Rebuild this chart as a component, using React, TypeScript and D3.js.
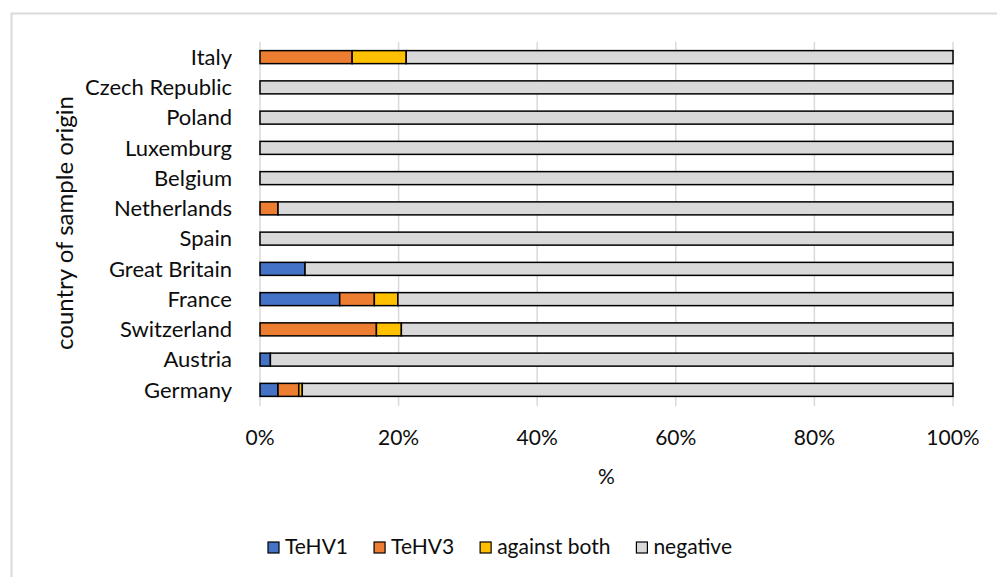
import React, { useRef, useEffect } from 'react';
import * as d3 from 'd3';

const countries = [
  'Italy',
  'Czech Republic',
  'Poland',
  'Luxemburg',
  'Belgium',
  'Netherlands',
  'Spain',
  'Great Britain',
  'France',
  'Switzerland',
  'Austria',
  'Germany',
];
const seriesNames = ['TeHV1', 'TeHV3', 'against both', 'negative'];
const tehv1 = [0, 0, 0, 0, 0, 0, 0, 6.5, 11.5, 0, 1.5, 2.6];
const tehv3 = [13.3, 0, 0, 0, 0, 2.6, 0, 0, 5.0, 16.8, 0, 3.0];
const againstBoth = [7.8, 0, 0, 0, 0, 0, 0, 0, 3.4, 3.6, 0, 0.5];
const negative = countries.map((_, i) => 100 - tehv1[i] - tehv3[i] - againstBoth[i]);
const xTicks = [0, 20, 40, 60, 80, 100];
const colors = ['#4472C4', '#ED7D31', '#FFC000', '#D9D9D9'];

const W = 997;
const H = 577;
const FONT = 'Lato, "Open Sans", sans-serif';
const INK = '#0d0d0d';

const App: React.FC = () => {
  const ref = useRef<SVGSVGElement | null>(null);

  useEffect(() => {
    if (!ref.current) return;
    const svg = d3.select(ref.current);
    svg.selectAll('*').remove();

    const margin = { top: 42, right: 44, bottom: 172, left: 260 };
    const x = d3.scaleLinear().domain([0, 100]).range([margin.left, W - margin.right]);
    const y = d3
      .scaleBand()
      .domain(countries)
      .range([margin.top, H - margin.bottom])
      .paddingInner(0.57)
      .paddingOuter(0.285);

    // chart frame
    svg
      .append('rect')
      .attr('x', 11.5)
      .attr('y', 13.5)
      .attr('width', 1000)
      .attr('height', 600)
      .attr('fill', '#fff')
      .attr('stroke', '#d9d9d9')
      .attr('stroke-width', 2);

    // gridlines
    svg
      .append('g')
      .selectAll('line')
      .data(xTicks)
      .join('line')
      .attr('x1', (d) => x(d))
      .attr('x2', (d) => x(d))
      .attr('y1', margin.top)
      .attr('y2', H - margin.bottom + 1)
      .attr('stroke', '#d9d9d9')
      .attr('stroke-width', 1.5);

    const rows = countries.map((c, i) => {
      const vals = [tehv1[i], tehv3[i], againstBoth[i], negative[i]];
      return { c, vals };
    });
    const stack = d3
      .stack<{ c: string; vals: number[] }, number>()
      .keys([0, 1, 2, 3])
      .value((d, k) => d.vals[k]);
    const layers = stack(rows);

    svg
      .append('g')
      .selectAll('g')
      .data(layers)
      .join('g')
      .attr('fill', (d) => colors[d.key])
      .selectAll('rect')
      .data((d) => d.filter((p) => p[1] - p[0] > 0))
      .join('rect')
      .attr('x', (p) => x(p[0]))
      .attr('width', (p) => x(p[1]) - x(p[0]))
      .attr('y', (p) => y(p.data.c)!)
      .attr('height', y.bandwidth())
      .attr('stroke', '#000')
      .attr('stroke-width', 1.5);

    // category labels
    svg
      .append('g')
      .selectAll('text')
      .data(countries)
      .join('text')
      .attr('x', margin.left - 28)
      .attr('y', (d) => y(d)! + y.bandwidth() / 2)
      .attr('dy', '0.35em')
      .attr('text-anchor', 'end')
      .attr('font-family', FONT)
      .attr('font-size', 22)
      .attr('fill', INK)
      .text((d) => d);

    // x tick labels
    svg
      .append('g')
      .selectAll('text')
      .data(xTicks)
      .join('text')
      .attr('x', (d) => x(d))
      .attr('y', 445)
      .attr('text-anchor', 'middle')
      .attr('font-family', FONT)
      .attr('font-size', 21)
      .attr('fill', INK)
      .text((d) => `${d}%`);

    // axis titles
    svg
      .append('text')
      .attr('x', x(50))
      .attr('y', 484)
      .attr('text-anchor', 'middle')
      .attr('font-family', FONT)
      .attr('font-size', 21)
      .attr('fill', INK)
      .text('%');
    svg
      .append('text')
      .attr('transform', `translate(73,223) rotate(-90)`)
      .attr('text-anchor', 'middle')
      .attr('font-family', FONT)
      .attr('font-size', 24)
      .attr('fill', INK)
      .text('country of sample origin');

    // legend
    const legend = svg.append('g');
    const items = legend
      .selectAll('g')
      .data(seriesNames)
      .join('g');
    items
      .append('rect')
      .attr('width', 11)
      .attr('height', 11)
      .attr('y', -12)
      .attr('fill', (_, i) => colors[i])
      .attr('stroke', '#000')
      .attr('stroke-width', 1.2);
    items
      .append('text')
      .attr('x', 17)
      .attr('font-family', FONT)
      .attr('font-size', 21)
      .attr('fill', INK)
      .text((d) => d);
    const widths: number[] = [];
    items.each(function () {
      const t = d3.select(this).select('text').node() as SVGTextElement;
      widths.push(17 + t.getComputedTextLength());
    });
    const gap = 26;
    const total = d3.sum(widths) + gap * (widths.length - 1);
    let cx = 500 - total / 2;
    items.attr('transform', (_, i) => {
      const tx = cx;
      cx += widths[i] + gap;
      return `translate(${tx},${554})`;
    });
  }, []);

  return (
    <svg
      ref={ref}
      width={W}
      height={H}
      style={{ position: 'fixed', left: 0, top: 0, background: '#fff' }}
    />
  );
};

export default App;
